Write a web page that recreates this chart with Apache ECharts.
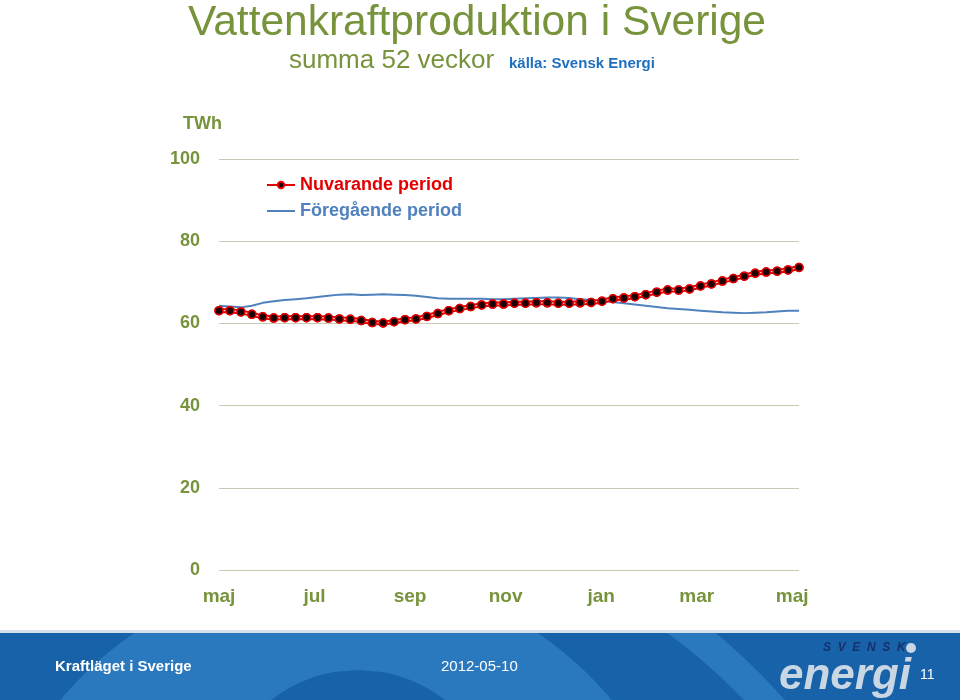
<!DOCTYPE html>
<html>
<head>
<meta charset="utf-8">
<script src="https://cdn.jsdelivr.net/npm/echarts@6/dist/echarts.min.js"></script>
<style>
html,body{margin:0;padding:0;background:#fff;}
#chart{width:960px;height:700px;}
</style>
</head>
<body>
<div id="chart"></div>
<script>
// Weeks 18/2011 .. 19/2012
const weeks = [];
for (let w = 18; w <= 52; w++) weeks.push('2011-v' + w);
for (let w = 1; w <= 19; w++) weeks.push('2012-v' + w);

const current = [63.1,63.1,62.8,62.2,61.6,61.3,61.4,61.4,61.4,61.4,
                 61.3,61.1,61.0,60.7,60.2,60.1,60.4,60.9,61.1,61.7,
                 62.4,63.1,63.6,64.1,64.5,64.7,64.7,64.9,64.9,65.0,
                 65.0,64.9,64.9,65.0,65.1,65.4,66.0,66.2,66.5,67.0,
                 67.6,68.1,68.1,68.4,69.1,69.6,70.3,70.9,71.5,72.2,
                 72.5,72.7,73.0,73.6];
const previous = [64.3,64.1,63.9,64.3,65.0,65.4,65.7,65.9,66.1,66.4,
                  66.7,67.0,67.1,66.9,67.0,67.1,67.0,66.9,66.7,66.4,
                  66.1,66.0,66.0,66.0,66.0,65.9,65.9,66.0,66.1,66.2,
                  66.3,66.3,66.2,65.9,65.7,65.5,65.2,64.9,64.6,64.3,
                  64.0,63.7,63.5,63.3,63.1,62.9,62.7,62.6,62.5,62.6,
                  62.7,62.9,63.1,63.1];
const monthLabels = ['maj','jul','sep','nov','jan','mar','maj'];
const monthStep = 8.73; // weeks per two months
const yTicks = [0, 20, 40, 60, 80, 100];

const olive = '#77933c';
const red = '#e30000';
const blue = '#4f81bd';
const gridColor = '#c9cab2';
const bandDark = '#1762a8';
const bandLight = '#2a78bd';
const bandH = 70;

// decorative swirl in footer band: disk clipped to the band strip
function diskInBand(cx, cy, r, fill) {
  const left = [], right = [];
  for (let y = 0; y <= bandH; y += 2) {
    const d = r * r - (y - cy) * (y - cy);
    if (d < 0) continue;
    const h = Math.sqrt(d);
    left.push([cx - h, y]);
    right.unshift([cx + h, y]);
  }
  return {type: 'polygon', shape: {points: left.concat(right)}, style: {fill: fill}};
}

const chart = echarts.init(document.getElementById('chart'));
chart.setOption({
  animation: false,
  backgroundColor: '#ffffff',
  title: [
    {text: 'Vattenkraftproduktion i Sverige', left: 188, top: 2, padding: 0,
     textStyle: {fontFamily: 'Liberation Sans', fontSize: 42.5, fontWeight: 'normal', color: olive}},
    {text: 'summa 52 veckor', left: 289, top: 48, padding: 0,
     textStyle: {fontFamily: 'Liberation Sans', fontSize: 26, fontWeight: 'normal', color: olive}},
    {text: 'källa: Svensk Energi', left: 509, top: 56, padding: 0,
     textStyle: {fontFamily: 'Liberation Sans', fontSize: 15, fontWeight: 'bold', color: '#1f6fc0'}},
    {text: 'TWh', left: 183, top: 115, padding: 0,
     textStyle: {fontFamily: 'Liberation Sans', fontSize: 18, fontWeight: 'bold', color: olive}}
  ],
  legend: {
    orient: 'vertical', left: 266, top: 176, itemGap: 8, padding: 0,
    itemWidth: 28, itemHeight: 8,
    data: [
      {name: 'Nuvarande period', textStyle: {color: red}},
      {name: 'Föregående period', textStyle: {color: blue}, itemStyle: {opacity: 0}}
    ],
    textStyle: {fontFamily: 'Liberation Sans', fontSize: 18, fontWeight: 'bold'}
  },
  grid: {left: 219, right: 161, top: 159, bottom: 130, containLabel: false},
  xAxis: [
    {type: 'category', data: weeks, boundaryGap: false,
     axisLine: {show: false}, axisTick: {show: false}, axisLabel: {show: false}, splitLine: {show: false}},
    {type: 'value', min: 0, max: weeks.length - 1, interval: monthStep, position: 'bottom',
     axisLine: {show: false}, axisTick: {show: false}, splitLine: {show: false},
     axisLabel: {
       margin: 17, showMaxLabel: false,
       fontFamily: 'Liberation Sans', fontSize: 19, fontWeight: 'bold', color: olive,
       formatter: function (v) {
         const k = v / monthStep, i = Math.round(k);
         return Math.abs(k - i) < 0.05 && i < monthLabels.length ? monthLabels[i] : '';
       }
     }}
  ],
  yAxis: {
    type: 'value', min: yTicks[0], max: yTicks[yTicks.length - 1], interval: 20,
    axisLine: {show: false}, axisTick: {show: false},
    splitLine: {lineStyle: {color: gridColor, width: 1}},
    axisLabel: {margin: 19, fontFamily: 'Liberation Sans', fontSize: 18, fontWeight: 'bold', color: olive}
  },
  series: [
    {name: 'Föregående period', type: 'line', data: previous, xAxisIndex: 0,
     symbol: 'none', smooth: false, z: 2,
     lineStyle: {color: blue, width: 2}, itemStyle: {color: blue}},
    {name: 'Nuvarande period', type: 'line', data: current, xAxisIndex: 0,
     symbol: 'circle', symbolSize: 8, showSymbol: true, showAllSymbol: true, z: 3,
     lineStyle: {color: red, width: 5},
     itemStyle: {color: '#1a0000', borderColor: red, borderWidth: 1.5}},
    {name: '_inner', type: 'line', data: current, xAxisIndex: 0,
     symbol: 'none', z: 4, silent: true,
     lineStyle: {color: '#ffd6d6', width: 1.2}},
    {name: '_markers', type: 'line', data: current, xAxisIndex: 0,
     symbol: 'circle', symbolSize: 8, showSymbol: true, showAllSymbol: true, z: 5, silent: true,
     lineStyle: {width: 0, opacity: 0},
     itemStyle: {color: '#1a0000', borderColor: red, borderWidth: 1.5}}
  ],
  graphic: [
    {type: 'group', x: 0, y: 630, silent: true, z: 50, children: [
      {type: 'rect', shape: {x: 0, y: 0, width: 960, height: bandH}, style: {fill: bandDark}},
      diskInBand(300, 500, 648, bandLight),
      diskInBand(300, 500, 618, bandDark),
      diskInBand(336, 300, 359, bandLight),
      diskInBand(358, 180, 140, bandDark),
      {type: 'rect', shape: {x: 0, y: 0, width: 960, height: 3}, style: {fill: '#d6e1ec'}}
    ]},
    {type: 'text', left: 55, top: 659, z: 60, silent: true,
     style: {text: 'Kraftläget i Sverige', fill: '#ffffff', font: 'bold 15px "Liberation Sans"'}},
    {type: 'text', left: 441, top: 659, z: 60, silent: true,
     style: {text: '2012-05-10', fill: '#ffffff', font: '15px "Liberation Sans"'}},
    {type: 'text', left: 823, top: 642, z: 60, silent: true,
     style: {text: 'S  V  E  N  S  K', fill: '#16306e', font: 'italic bold 12px "Liberation Sans"'}},
    {type: 'circle', left: 906, top: 643, z: 60, silent: true,
     shape: {r: 5}, style: {fill: '#c9d6e3'}},
    {type: 'text', left: 779, top: 655, z: 60, silent: true,
     style: {text: 'energi', fill: '#c9d6e3', font: 'italic bold 44px "Liberation Sans"'}},
    {type: 'text', left: 920, top: 668, z: 60, silent: true,
     style: {text: '11', fill: '#ffffff', font: '14px "Liberation Sans"'}}
  ]
});
</script>
</body>
</html>
